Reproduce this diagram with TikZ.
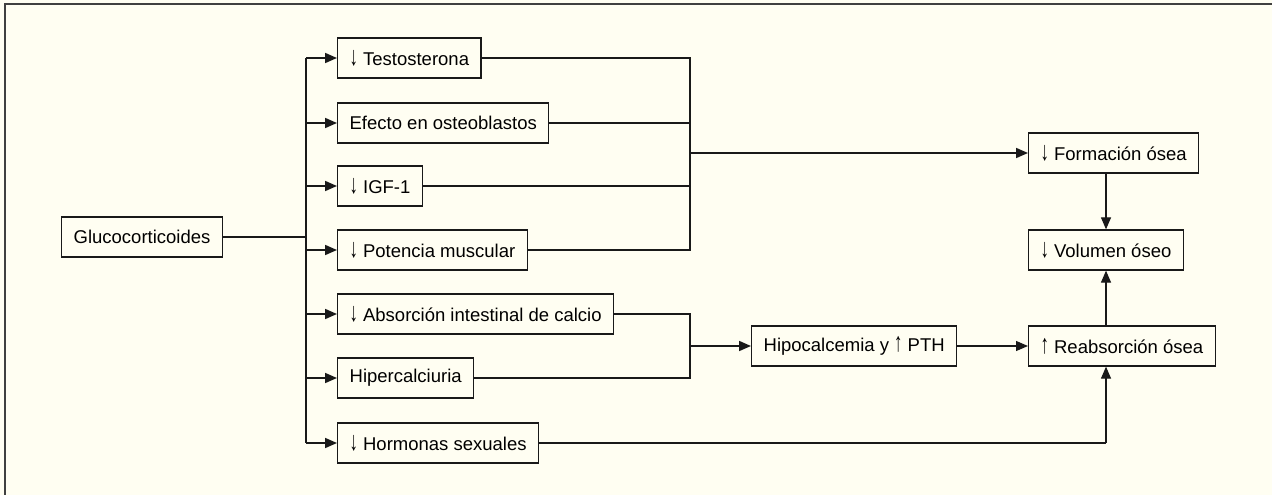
\documentclass[tikz,border=0pt]{standalone}
\usepackage{fontspec}
\setmainfont{Liberation Sans}
\usetikzlibrary{arrows.meta}
\definecolor{bg}{RGB}{255,254,242}
\definecolor{ln}{RGB}{25,25,25}
\newcommand{\dnar}{\scalebox{0.9}[1.45]{↓}}
\newcommand{\upar}{\scalebox{0.9}[1.45]{↑}}
\begin{document}
\begin{tikzpicture}[x=1pt,y=-1pt,
  box/.style={draw=ln,line width=1.3pt,fill=bg,minimum height=40pt,inner xsep=12pt,anchor=west,
    font=\fontsize{18.5}{22}\selectfont},
  trunk/.style={draw=ln,line width=1.7pt},
  thin/.style={draw=ln,line width=1.2pt},
  arr/.style={draw=ln,line width=1.7pt,-{Triangle[length=12pt,width=10pt]}},
  arrthin/.style={draw=ln,line width=1.2pt,-{Triangle[length=12pt,width=10pt]}}]
\useasboundingbox (0,0) rectangle (1272,495);
\fill[bg] (0,0) rectangle (1272,495);
\draw[line width=1.5pt,draw=black!75] (5,495) -- (5,4) -- (1272,4);

\node[box] (g) at (61,237) {Glucocorticoides};
\node[box] (t1) at (337,58) {\dnar{} Testosterona};
\node[box] (t2) at (337,123) {Efecto en osteoblastos};
\node[box] (t3) at (337,186) {\dnar{} IGF-1};
\node[box] (t4) at (337,250) {\dnar{} Potencia muscular};
\node[box] (t5) at (337,314) {\dnar{} Absorción intestinal de calcio};
\node[box] (t6) at (337,378) {Hipercalciuria};
\node[box] (t7) at (337,443) {\dnar{} Hormonas sexuales};
\node[box] (hp) at (751,346) {Hipocalcemia y \upar{} PTH};
\node[box] (fo) at (1028,153) {\dnar{} Formación ósea};
\node[box] (vo) at (1028,250) {\dnar{} Volumen óseo};
\node[box] (re) at (1028,346) {\upar{} Reabsorción ósea};

\coordinate (tr) at (306,237);
\coordinate (c1) at (690,153);
\coordinate (c2) at (690,346);

\draw[trunk] (g.east) -- (tr);
\draw[trunk] (tr |- t1.west) -- (tr |- t7.west);
\foreach \n in {t1,t2,t3,t4,t5,t6,t7}
  \draw[arr] (tr |- \n.west) -- (\n.west);

\draw[thin] (t1.east) -- (c1 |- t1.east) -- (c1 |- t4.east) -- (t4.east);
\draw[thin] (t2.east) -- (c1 |- t2.east);
\draw[thin] (t3.east) -- (c1 |- t3.east);
\draw[arr] (c1) -- (fo.west);

\draw[thin] (t5.east) -- (c2 |- t5.east) -- (c2 |- t6.east) -- (t6.east);
\draw[arr] (c2) -- (hp.west);
\draw[arrthin] (hp.east) -- (re.west);

\draw[arrthin] (fo.south -| vo.north) -- (vo.north);
\draw[arrthin] (re.north -| vo.south) -- (vo.south);
\draw[thin] (t7.east) -- (vo.south |- t7.east) coordinate (hk);
\draw[arrthin] (hk) -- (re.south -| vo.south);
\end{tikzpicture}
\end{document}
